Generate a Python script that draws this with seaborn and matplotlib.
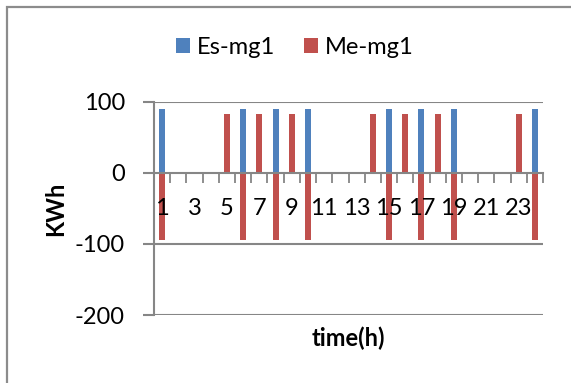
import matplotlib
matplotlib.use("Agg")
import matplotlib.pyplot as plt
from matplotlib.patches import Rectangle, Patch
import seaborn as sns
import pandas as pd

hours = list(range(1, 25))
es_mg1 = [90, 0, 0, 0, 0, 90, 0, 90, 0, 90, 0, 0, 0, 0, 90, 0, 90, 0, 90, 0, 0, 0, 0, 90]
me_mg1 = [-94, 0, 0, 0, 82, -94, 82, -94, 82, -94, 0, 0, 0, 82, -94, 82, -94, 82, -94, 0, 0, 0, 82, -94]
series_names = ["Es-mg1", "Me-mg1"]
colors = {"Es-mg1": "#4F81BD", "Me-mg1": "#C0504D"}
x_tick_labels = [str(h) for h in hours[::2]]
y_ticks = [-200, -100, 0, 100]

df = pd.DataFrame({
    "hour": hours * 2,
    "value": es_mg1 + me_mg1,
    "series": [series_names[0]] * 24 + [series_names[1]] * 24,
})

plt.rcParams["font.family"] = ["Lato", "DejaVu Sans"]
FS = 17
GRAY = "#868686"

fig = plt.figure(figsize=(5.71, 3.83), dpi=100)
ax = fig.add_axes([154 / 571, 1 - 315 / 383, (543 - 154) / 571, (315 - 101.7) / 383])

sns.barplot(data=df, x="hour", y="value", hue="series", order=hours,
            hue_order=series_names, palette=colors, dodge=False, width=0.37,
            errorbar=None, legend=False, linewidth=0, saturation=1, ax=ax)

ax.set_ylim(-200, 100)
ax.set_xlim(-0.5, 23.5)
ax.set_yticks(y_ticks)
ax.set_yticklabels([str(v) for v in y_ticks])
for v in [-200, -100, 100]:
    ax.axhline(v, color=GRAY, lw=1.5, zorder=0)

for s in ["top", "right"]:
    ax.spines[s].set_visible(False)
ax.spines["left"].set_color(GRAY)
ax.spines["left"].set_linewidth(1.5)
ax.spines["bottom"].set_position(("data", 0))
ax.spines["bottom"].set_color(GRAY)
ax.spines["bottom"].set_linewidth(1.5)
ax.spines["bottom"].set_zorder(3)

ax.set_xticks(list(range(0, 24, 2)))
ax.set_xticklabels(x_tick_labels)
ax.set_xticks([i - 0.5 for i in range(25)], minor=True)
ax.tick_params(axis="x", which="major", length=0, pad=18, labelsize=FS)
ax.tick_params(axis="x", which="minor", length=7, width=1.3, color=GRAY, direction="out")
ax.tick_params(axis="y", which="major", length=8, width=1.5, color=GRAY, pad=13, labelsize=FS)

ax.set_xlabel("time(h)", fontsize=FS, fontweight="bold")
ax.xaxis.set_label_coords(0.5, -0.11)
ax.xaxis.label.set_va("center")
ax.set_ylabel("KWh", fontsize=FS, fontweight="bold")
ax.yaxis.set_label_coords(-(154 - 56) / 389, 0.5)
ax.yaxis.label.set_va("center")

handles = [Patch(facecolor=colors[n], edgecolor="none", label=n) for n in series_names]
fig.legend(handles=handles, loc="center", bbox_to_anchor=(295 / 571, 1 - 47.7 / 383),
           ncol=2, frameon=False, fontsize=FS, handlelength=0.6, handleheight=0.6,
           handletextpad=0.3, columnspacing=1.2, borderpad=0)

fig.patches.append(Rectangle((6.7 / 571, -0.1), 2, 1 - 7.3 / 383 + 0.1,
                             transform=fig.transFigure, fill=False,
                             edgecolor="#8c8c8c", lw=1.6))

fig.savefig("out.png", dpi=100)
